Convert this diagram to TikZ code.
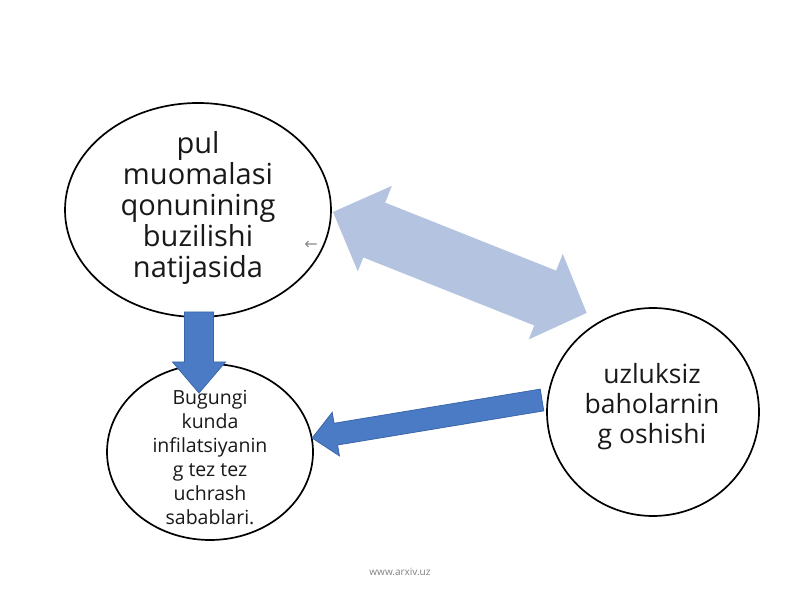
\documentclass[tikz,border=0pt]{standalone}
\usepackage{fontspec}
\setmainfont{Open Sans}
\newfontfamily\symfont{DejaVu Sans}
\definecolor{darkarrow}{HTML}{4A7BC4}
\definecolor{darkedge}{HTML}{3A66AA}
\definecolor{lightarrow}{HTML}{B4C3DF}
\begin{document}
\begin{tikzpicture}[x=1pt,y=1pt,
  lbl/.style={align=center, inner sep=0pt, text=black!90},
  blockdark/.style={fill=darkarrow, draw=darkedge, line width=0.8pt, line join=miter},
  blocklight/.style={fill=lightarrow, draw=none}]
\useasboundingbox (0,0) rectangle (800,600);
\fill[white] (0,0) rectangle (800,600);

% light double arrow (under the ellipses)
\coordinate (dA) at (333,388);
\begin{scope}[shift={(dA)}, rotate=-21.7]
  \fill[blocklight] (0,0) -- (45,46) -- (45,28) -- (229,28) -- (229,46) -- (273,0)
    -- (229,-46) -- (229,-31) -- (45,-31) -- (45,-46) -- cycle;
\end{scope}

% ellipses
\draw[line width=1.7pt] (198,390) ellipse [x radius=133, y radius=107];
\draw[line width=1.7pt] (210,148) ellipse [x radius=103, y radius=88];
\draw[line width=1.7pt] (653,188) ellipse [x radius=106, y radius=104];

% dark block arrows (on top of the ellipses)
\coordinate (lA) at (542,200);
\begin{scope}[shift={(lA)}, rotate=189.4]
  \draw[blockdark] (0,11) -- (209,11) -- (209,22) -- (233,0) -- (209,-22) -- (209,-11) -- (0,-11) -- cycle;
\end{scope}

\coordinate (vA) at (199,288);
\begin{scope}[shift={(vA)}, rotate=-90]
  \draw[blockdark] (0,14.5) -- (50,14.5) -- (50,26.5) -- (81,0) -- (50,-26.5) -- (50,-14.5) -- (0,-14.5) -- cycle;
\end{scope}

% texts
\node[lbl, font=\fontsize{29}{31}\selectfont] (top) at (198,392)
  {pul\\muomalasi\\qonunining\\buzilishi\\natijasida\ };
\node[lbl, font=\fontsize{19.5}{24}\selectfont] (bot) at (210,143)
  {Bugungi\\kunda\\infilatsiyanin\\g tez tez\\uchrash\\sabablari.};
\node[lbl, font=\fontsize{26.5}{30}\selectfont] (rgt) at (652,193)
  {uzluksiz\\baholarnin\\g oshishi};

\node[inner sep=0pt, text=black!45, font=\symfont\fontsize{16}{16}\selectfont] (sa) at (311,355) {←};
\node[inner sep=0pt, text=black!50, font=\fontsize{10}{12}\selectfont] (url) at (400,28) {www.arxiv.uz};
\end{tikzpicture}
\end{document}
